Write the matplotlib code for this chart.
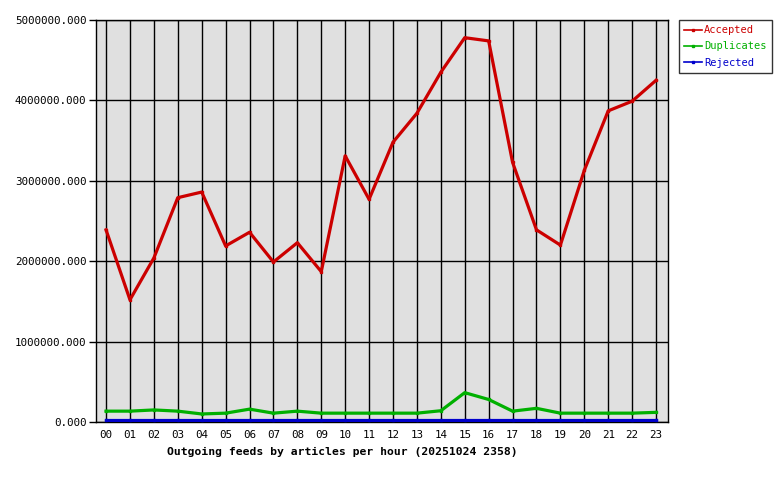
import matplotlib
matplotlib.use("Agg")
import matplotlib.pyplot as plt
from matplotlib.ticker import FormatStrFormatter

hours = ['00', '01', '02', '03', '04', '05', '06', '07', '08', '09', '10', '11',
         '12', '13', '14', '15', '16', '17', '18', '19', '20', '21', '22', '23']

accepted = [2390000, 1520000, 2040000, 2790000, 2860000, 2190000, 2360000, 1990000,
            2230000, 1870000, 3310000, 2770000, 3480000, 3840000, 4350000, 4780000,
            4740000, 3230000, 2390000, 2200000, 3130000, 3870000, 3990000, 4250000]
duplicates = [135000, 135000, 150000, 135000, 100000, 110000, 160000, 110000,
              135000, 110000, 110000, 110000, 110000, 110000, 140000, 365000,
              280000, 135000, 170000, 110000, 110000, 110000, 110000, 120000]
rejected = [20000] * 24

plt.rcParams['font.family'] = 'DejaVu Sans Mono'

fig = plt.figure(figsize=(7.8, 4.8), dpi=100)
ax = fig.add_axes([96 / 780, 58 / 480, 572 / 780, 402 / 480])
ax.set_facecolor('#e0e0e0')

x = list(range(len(hours)))
ax.plot(x, rejected, color='#0000cc', lw=2.3, label='Rejected', zorder=3)
ax.plot(x, duplicates, color='#00b000', lw=2.3, label='Duplicates', zorder=4)
ax.plot(x, accepted, color='#cc0000', lw=2.3, label='Accepted', zorder=5)

ax.set_xlim(-0.42, 23.5)
ax.set_ylim(0, 5000000)
ax.set_xticks(x)
ax.set_xticklabels(hours)
ax.set_yticks([0, 1000000, 2000000, 3000000, 4000000, 5000000])
ax.yaxis.set_major_formatter(FormatStrFormatter('%.3f'))
ax.grid(True, color='black', lw=1)
ax.set_axisbelow(True)
ax.tick_params(axis='x', length=0, pad=6, labelsize=7.8)
ax.tick_params(axis='y', length=5, width=1, pad=2, labelsize=7.8)
for s in ax.spines.values():
    s.set_color('black')
    s.set_linewidth(1)

ax.set_xlabel('Outgoing feeds by articles per hour (20251024 2358)',
              fontsize=8.2, fontweight='bold', labelpad=3)
ax.xaxis.set_label_coords((342 - 96) / 572, -0.062)

# legend in the right margin
h, l = ax.get_legend_handles_labels()
order = [2, 1, 0]
for i in order:
    h[i].set_marker('s')
    h[i].set_markersize(2)
leg = fig.legend([h[i] for i in order], [l[i] for i in order],
                 loc='upper left', bbox_to_anchor=(679 / 780, 1 - 20 / 480),
                 fontsize=7.5, frameon=True, fancybox=False, edgecolor='black',
                 handlelength=1.7, handletextpad=0.2, borderpad=0.5,
                 labelspacing=0.6, borderaxespad=0)
leg.get_frame().set_linewidth(1)
for t, c in zip(leg.get_texts(), ['#cc0000', '#00b000', '#0000cc']):
    t.set_color(c)
for lh in leg.get_lines():
    lh.set_linewidth(1.2)

fig.savefig('out.png', dpi=100)
